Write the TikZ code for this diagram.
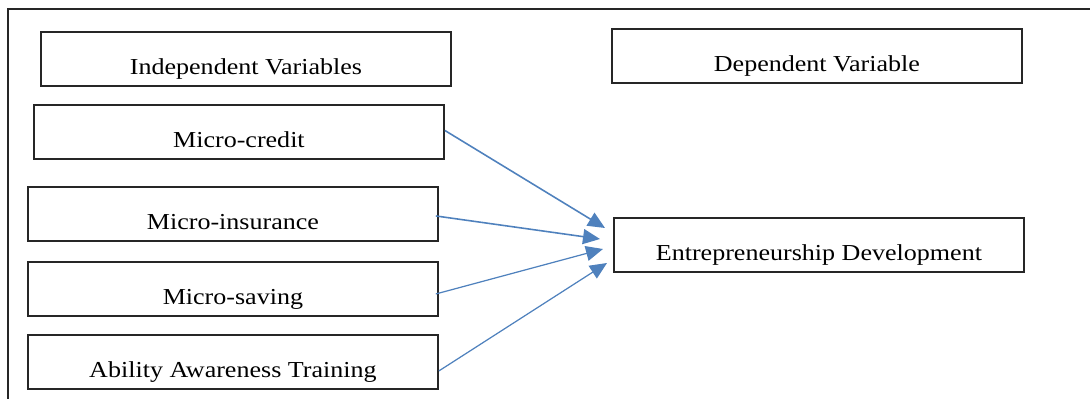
\documentclass[tikz,border=0pt]{standalone}
\usepackage{fontspec}
\setmainfont{Liberation Serif}[FakeStretch=1.14]
\usetikzlibrary{arrows.meta,calc}
\definecolor{linkblue}{RGB}{79,129,189}
\tikzset{
  varbox/.style={draw=black!85, line width=1.1pt, anchor=north west, inner sep=0pt,
    minimum width=8.2cm, text height=0.86cm, text depth=0.22cm,
    font=\fontsize{13}{15}\selectfont},
  link/.style={linkblue, line width=0.9pt, -{Triangle[length=0.34cm,width=0.3cm]}}
}
\begin{document}
\begin{tikzpicture}[x=0.02cm, y=-0.02cm]
    \useasboundingbox (0,0) rectangle (1090,399);

    % Cornice
    \draw[line width=1.2pt, black!85] (1090,9) -- (8,9) -- (8,399);

    % Titoli
    \node[varbox] (indep) at (40,31) {Independent Variables};
    \node[varbox] (dep) at (611,28) {Dependent Variable};

    % Variabili indipendenti
    \node[varbox] (credit) at (33,104) {Micro-credit};
    \node[varbox] (insur) at (27,186) {Micro-insurance};
    \node[varbox] (saving) at (27,261) {Micro-saving};
    \node[varbox] (ability) at (27,334) {Ability Awareness Training};

    % Variabile dipendente
    \node[varbox] (entre) at (613,217) {Entrepreneurship Development};

    % Punte delle frecce
    \coordinate (tcredit) at (605,228);
    \coordinate (tinsur) at (600,239);
    \coordinate (tsaving) at (603,249);
    \coordinate (tability) at (607,263);

    % Frecce
    \draw[link] ($(credit.east)+(0,-1.5)$) -- (tcredit);
    \draw[link] ($(insur.east)+(-3,2)$) -- (tinsur);
    \draw[link, line width=0.7pt] ($(saving.east)+(-3,5)$) -- (tsaving);
    \draw[link, line width=0.7pt] ($(ability.east)+(0,9)$) -- (tability);
\end{tikzpicture}
\end{document}
